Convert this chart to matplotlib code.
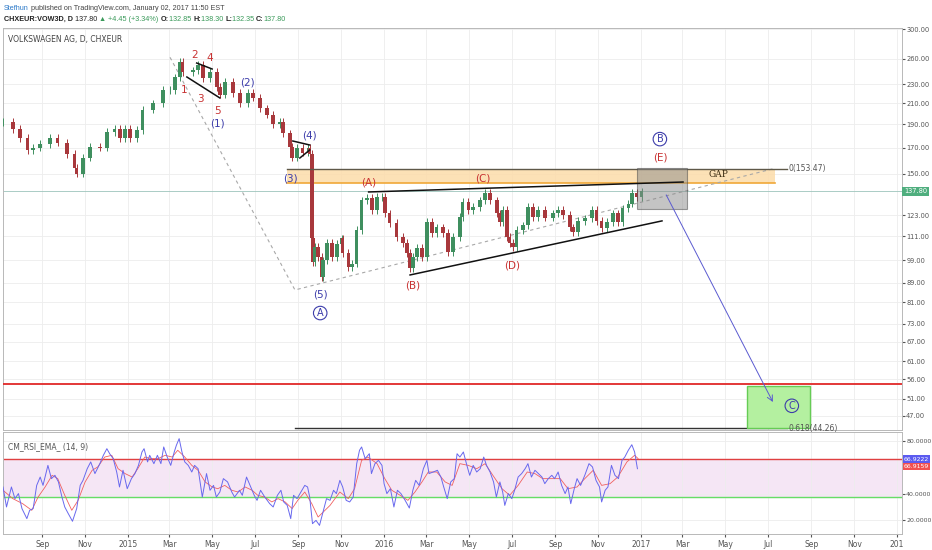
import numpy as np
import pandas as pd
import matplotlib
matplotlib.use('Agg')
import matplotlib.pyplot as plt
from matplotlib.patches import Rectangle
from matplotlib.ticker import FixedLocator, NullLocator
from matplotlib.transforms import blended_transform_factory

BASE = pd.Timestamp('2015-01-01')

# daily chart traced by eye: day offset from 2015-01-01 and close
price_days = [-178, -164, -154, -143, -135, -125, -111, -100, -87, -76,
              -73, -64, -54, -40, -30, -19, -11, -4, 3, 13,
              21, 36, 50, 60, 67, 74, 78, 93, 100, 107,
              117, 127, 131, 138, 150, 160, 171, 178, 188, 198,
              207, 217, 221, 231, 234, 241, 249, 257, 259, 262,
              264, 266, 271, 276, 278, 284, 291, 298, 305, 306,
              314, 319, 326, 333, 341, 348, 355, 362, 366, 373,
              383, 392, 398, 402, 406, 412, 419, 426, 433, 440,
              449, 456, 463, 473, 477, 485, 492, 502, 509, 516,
              526, 530, 534, 540, 544, 549, 554, 563, 570, 577,
              584, 594, 606, 613, 620, 630, 634, 641, 651, 661,
              668, 675, 683, 691, 698, 705, 713, 718, 725, 732]
price_close = [192, 186, 178, 168, 170, 173, 178, 174, 165, 154,
               150, 162, 170.5, 170, 183, 186, 178, 186, 178, 185,
               204, 210, 224, 224, 238, 256, 244, 246, 253, 237,
               244, 227, 219, 233, 221, 210, 221, 216, 205, 199,
               190, 192, 182, 170.5, 162, 170, 166, 170, 165, 110,
               98, 105.6, 100.7, 91.5, 99, 107.6, 100.7, 107, 110, 102.6,
               96, 97.5, 114.5, 132, 133.5, 126, 134, 134, 124, 118.4,
               110.7, 107.6, 102.6, 95.5, 100.7, 105, 100.7, 119, 113, 116,
               113, 103, 110.7, 122, 131, 126, 128, 132, 136.7, 132,
               124, 119, 126, 110.7, 107.6, 105.6, 114.5, 117, 128, 122,
               126, 121.5, 124, 126, 123, 116, 113.5, 119.5, 121, 126,
               119.5, 115.6, 119, 124, 119, 127, 130, 137, 134, 137.8]

rsi_days = [-178, -173, -166, -161, -156, -151, -144, -140, -135, -130,
            -125, -121, -114, -109, -104, -99, -94, -90, -85, -79,
            -73, -68, -64, -58, -53, -47, -40, -35, -30, -26,
            -21, -16, -12, -7, -1, 5, 10, 15, 20, 23,
            28, 31, 37, 42, 47, 51, 56, 61, 66, 69,
            73, 77, 81, 86, 91, 95, 100, 106, 112, 117,
            122, 126, 131, 136, 142, 148, 152, 159, 163, 169,
            175, 180, 184, 189, 195, 202, 207, 213, 218, 222,
            227, 232, 236, 241, 248, 252, 256, 259, 263, 268,
            273, 278, 283, 288, 293, 297, 302, 306, 311, 316,
            321, 326, 330, 333, 338, 344, 347, 352, 357, 362,
            365, 369, 374, 379, 384, 389, 395, 401, 406, 410,
            415, 421, 426, 429, 435, 441, 446, 450, 455, 460,
            465, 469, 473, 478, 483, 487, 492, 497, 502, 507,
            511, 516, 521, 525, 530, 534, 537, 542, 547, 551,
            556, 561, 566, 570, 575, 580, 585, 590, 594, 599,
            604, 608, 613, 618, 623, 627, 631, 636, 640, 645,
            651, 657, 662, 667, 672, 675, 680, 684, 689, 694,
            699, 704, 708, 713, 718, 722, 726]
rsi_vals = [45.3, 30.2, 45.3, 36.5, 40.3, 29, 21.4, 27.7, 29, 46.5,
            52.8, 46.5, 61.6, 51.6, 54.1, 49.1, 37.7, 30.2, 25.2, 19.4,
            29, 46.5, 50.3, 59.1, 64.2, 55.4, 62.9, 69.2, 74.2, 70.4,
            66.7, 56.6, 45.3, 57.9, 44, 51.6, 55.4, 61.6, 71.7, 74.2,
            64.2, 69.2, 62.9, 69.2, 62.9, 75.5, 67.9, 61.6, 71.7, 76.7,
            81.8, 71.7, 64.2, 61.6, 56.6, 61.6, 59.1, 37.7, 55.4, 42.8,
            46.5, 37.7, 41.5, 51.6, 49.1, 41.5, 37.7, 42.8, 39, 52.8,
            45.3, 39, 35.2, 42.8, 37.7, 32.7, 30.2, 39, 42.8, 34,
            31.4, 21.4, 39, 36.5, 42.8, 46.5, 45.3, 37.7, 17.6, 20.1,
            16.3, 26.4, 36.5, 35.2, 42.8, 40.3, 50.3, 45.3, 35.2, 34,
            37.7, 62.9, 73, 75.5, 66.7, 70.4, 55.4, 62.9, 65.4, 61.6,
            47.8, 40.3, 44, 30.2, 42.8, 40.3, 35.2, 29.4, 42.8, 50.3,
            46.5, 59.1, 65.4, 55.4, 56.6, 57.9, 52.8, 45.3, 36.5, 49.1,
            51.6, 70.4, 67.9, 71.7, 61.6, 54.1, 61.6, 56.6, 59.1, 67.9,
            61.6, 56.6, 49.1, 37.7, 49.1, 41.5, 31.4, 40.3, 36.5, 42.8,
            52.8, 55.4, 59.1, 62.9, 52.8, 57.9, 55.4, 52.8, 47.8, 51.6,
            54.1, 51.6, 56.6, 46.5, 40.3, 45.3, 32.7, 44, 51.6, 46.5,
            54.1, 62.9, 60.4, 50.3, 45.3, 34, 42.8, 45.3, 61.6, 54.1,
            51.6, 65.4, 67.9, 73, 77.2, 71.7, 59.1]

ema_days = [-178, -164, -150, -137, -128, -118, -108, -100, -90, -80,
            -71, -61, -51, -43, -33, -23, -14, -4, 6, 14,
            24, 34, 43, 53, 63, 71, 81, 91, 100, 110,
            120, 128, 138, 148, 157, 167, 177, 185, 195, 205,
            214, 224, 234, 242, 252, 262, 271, 288, 302, 314,
            323, 333, 342, 355, 366, 376, 388, 399, 409, 419,
            428, 440, 452, 462, 473, 485, 497, 509, 520, 533,
            544, 556, 569, 580, 591, 604, 616, 627, 640, 651,
            663, 675, 687, 698, 711, 722, 727]
ema_vals = [42.8, 36.5, 32.7, 27.7, 37.7, 45.3, 54.1, 51.6, 39, 27.7,
            35.2, 49.1, 57.9, 60.4, 67.9, 69.2, 59.1, 55.4, 52.8, 59.1,
            67.9, 66.7, 66.7, 69.2, 67.9, 73, 67.9, 61.6, 57.9, 49.1,
            45.3, 44, 46.5, 42.8, 41.5, 45.3, 42.8, 39, 37.7, 34,
            36.5, 34, 29, 35.2, 41.5, 32.7, 22.6, 31.4, 41.5, 36.5,
            44, 65.4, 67.9, 62.9, 51.6, 42.8, 39, 35.2, 41.5, 49.1,
            56.6, 56.6, 49.1, 46.5, 62.9, 61.6, 59.1, 62.9, 54.1, 44,
            39, 46.5, 56.6, 55.4, 51.6, 51.6, 51.6, 44, 45.3, 51.6,
            57.9, 46.5, 47.8, 52.8, 64.2, 69.2, 66.7]

price_ticks = [47, 51, 56, 61, 67, 73, 81, 89, 99, 111, 123,
               150, 170, 190, 210, 230, 260, 300]
rsi_ticks = [20, 40, 80]
month_ticks = ['2014-09-01', '2014-11-01', '2015-01-01', '2015-03-01',
               '2015-05-01', '2015-07-01', '2015-09-01', '2015-11-01',
               '2016-01-01', '2016-03-01', '2016-05-01', '2016-07-01',
               '2016-09-01', '2016-11-01', '2017-01-01', '2017-03-01',
               '2017-05-01', '2017-07-01', '2017-09-01', '2017-11-01',
               '2018-01-01']
month_labels = ['Sep', 'Nov', '2015', 'Mar', 'May', 'Jul', 'Sep', 'Nov',
                '2016', 'Mar', 'May', 'Jul', 'Sep', 'Nov', '2017', 'Mar',
                'May', 'Jul', 'Sep', 'Nov', '201']

# drawings on the chart (day offset, price)
wave_red = [('2', 95, 265), ('4', 117, 261), ('1', 80, 224), ('3', 104, 214.6),
            ('5', 127, 202.5), ('(A)', 343, 143.5), ('(C)', 506, 146.9),
            ('(B)', 406, 87.6), ('(D)', 547, 96.8), ('(E)', 758, 161.7)]
wave_blue = [('(1)', 127, 191), ('(2)', 170, 232.7), ('(4)', 258, 180.5),
             ('(3)', 231, 146.9), ('(5)', 275, 83.9)]
wave_circled = [('A', 274, 76.9), ('B', 758, 177), ('C', 946, 49.3)]
black_lines = [((84, 238.4), (131, 215.6)), ((98, 254.9), (120, 247.7)),
               ((235, 175.4), (259, 172.1)), ((245, 161.7), (259, 168)),
               ((343, 137.4), (791, 144.1)), ((402, 92.3), (761, 119.6))]
dashed_path_days = [60, 238, 922]
dashed_path_price = [262, 85.9, 153.9]
fib_top, fib_low = 153.47, 44.26
gap_low = 143.5
grey_box = (726, 796, 126.7, 154.2)
green_box = (882, 972, 44.26, 54.2)
arrow_from, arrow_to = (767, 135.5), (919, 50.2)
support_level = 54.7
last_close = 137.8

W, H = 932, 550
RED_T = '#c83232'
BLUE_T = '#3c3caa'
TXT = '#555555'
GRID = '#ededed'


def frame(x0, y0, x1, y1):
    return [x0 / W, 1 - y1 / H, (x1 - x0) / W, (y1 - y0) / H]


fig = plt.figure(figsize=(W / 100, H / 100), dpi=100)
fig.patch.set_facecolor('white')
ax = fig.add_axes(frame(3, 28, 902, 430))
rsi_ax = fig.add_axes(frame(3, 432, 902, 534), sharex=ax)

tick_days = [(pd.Timestamp(d) - BASE).days for d in month_ticks]

# candles
close = np.array(price_close, dtype=float)
opens = np.r_[close[0], close[:-1]]
days = np.array(price_days)
up = close >= opens
cols = np.where(up, '#3f8f5f', '#a8383c')
hi = np.maximum(opens, close) * 1.018
lo = np.minimum(opens, close) * 0.982
ax.vlines(days, lo, hi, colors=cols, lw=0.7, zorder=3)
ax.bar(days, np.abs(close - opens), bottom=np.minimum(opens, close),
       width=5, color=cols, linewidth=0, zorder=3)

ax.set_yscale('log')
ax.set_ylim(43.9, 301.5)
ax.set_xlim(-178, 1103)
ax.yaxis.set_major_locator(FixedLocator(price_ticks))
ax.yaxis.set_minor_locator(NullLocator())
ax.yaxis.set_major_formatter(plt.FuncFormatter(lambda v, p: '%.2f' % v))
ax.set_xticks(tick_days)
ax.tick_params(axis='y', left=False, right=True, labelleft=False,
               labelright=True, labelsize=4.8, colors=TXT, length=2, pad=1)
ax.tick_params(axis='x', bottom=False, labelbottom=False)
ax.grid(True, color=GRID, lw=0.6, zorder=0)
for sp in ax.spines.values():
    sp.set_color('#b8b8b8')
    sp.set_linewidth(0.7)

# gap zone and fib levels
ax.add_patch(Rectangle((227, gap_low), 922 - 227, fib_top - gap_low,
                       fc='#fcdcaa', ec='none', alpha=0.85, zorder=2))
ax.plot([227, 922], [gap_low, gap_low], color='#f0a838', lw=1.2, zorder=2)
ax.plot([227, 939], [fib_top, fib_top], color='#5e5848', lw=1.0, zorder=4)
ax.plot([238, 939], [fib_low, fib_low], color='#333333', lw=1.0, zorder=4)
ax.text(941, fib_top, '0(153.47)', fontsize=5.5, color=TXT, va='center',
        zorder=7)
ax.text(941, fib_low, '0.618(44.26)', fontsize=5.5, color=TXT, va='center',
        zorder=7)
ax.text(841, 149.5, 'GAP', fontsize=6.5, color='#3a2a10', family='serif',
        ha='center', va='center', zorder=5)

ax.add_patch(Rectangle((grey_box[0], grey_box[2]), grey_box[1] - grey_box[0],
                       grey_box[3] - grey_box[2], fc='#8a8a8a', alpha=0.5,
                       ec='#444444', lw=0.8, zorder=5))
ax.add_patch(Rectangle((green_box[0], green_box[2]), green_box[1] - green_box[0],
                       green_box[3] - green_box[2], fc='#b4f0a0',
                       ec='#66cc55', lw=1.0, zorder=4))

ax.axhline(support_level, color='#e02828', lw=1.3, zorder=4)
ax.axhline(last_close, color='#9cc4bc', lw=0.6, zorder=2)

ax.plot(dashed_path_days, dashed_path_price, color='#a8a8a8', lw=0.8,
        ls=(0, (3, 3)), zorder=2)
for (x0, y0), (x1, y1) in black_lines:
    ax.plot([x0, x1], [y0, y1], color='#111111', lw=1.1, zorder=5)

ax.annotate('', xy=arrow_to, xytext=arrow_from,
            arrowprops=dict(arrowstyle='->', color='#5a5ad0', lw=0.7,
                            shrinkA=0, shrinkB=0), zorder=6)

for s, d, p in wave_red:
    ax.text(d, p, s, color=RED_T, fontsize=7.5, ha='center', va='center',
            zorder=6)
for s, d, p in wave_blue:
    ax.text(d, p, s, color=BLUE_T, fontsize=7.5, ha='center', va='center',
            zorder=6)
for s, d, p in wave_circled:
    ax.text(d, p, s, color=BLUE_T, fontsize=7, ha='center', va='center',
            zorder=6, bbox=dict(boxstyle='circle,pad=0.18', fc='none',
                                ec=BLUE_T, lw=0.8))

ax.text(0.006, 0.982, 'VOLKSWAGEN AG, D, CHXEUR', transform=ax.transAxes,
        fontsize=5.5, color='#444444', va='top')

tr = blended_transform_factory(ax.transAxes, ax.transData)
ax.text(1.002, last_close, '137.80', transform=tr, fontsize=4.8, color='white',
        va='center', ha='left',
        bbox=dict(boxstyle='square,pad=0.25', fc='#4fae7e', ec='none'))

# RSI panel
rsi_ax.axhspan(37.5, 66.2, color='#f5e6f5', zorder=1)
rsi_ax.axhline(66.2, color='#e04040', lw=1.0, zorder=2)
rsi_ax.axhline(37.5, color='#66dd66', lw=1.0, zorder=2)
rsi_ax.plot(rsi_days, rsi_vals, color='#6868ee', lw=0.7, zorder=4)
rsi_ax.plot(ema_days, ema_vals, color='#f06060', lw=0.6, zorder=3)
rsi_ax.set_ylim(9.8, 86.8)
rsi_ax.set_yticks(rsi_ticks)
rsi_ax.set_yticklabels(['%.4f' % v for v in rsi_ticks])
rsi_ax.set_xticks(tick_days)
rsi_ax.set_xticklabels(month_labels)
rsi_ax.tick_params(axis='y', left=False, right=True, labelleft=False,
                   labelright=True, labelsize=4.5, colors=TXT, length=2,
                   pad=1)
rsi_ax.tick_params(axis='x', labelsize=5.5, colors=TXT, length=2.5, pad=2)
rsi_ax.grid(True, color=GRID, lw=0.6, zorder=0)
for sp in rsi_ax.spines.values():
    sp.set_color('#b8b8b8')
    sp.set_linewidth(0.7)
rsi_ax.text(0.006, 0.9, 'CM_RSI_EMA_ (14, 9)', transform=rsi_ax.transAxes,
            fontsize=5.5, color=TXT, va='top')
tr2 = blended_transform_factory(rsi_ax.transAxes, rsi_ax.transData)
rsi_ax.text(1.002, 66.4, '66.9222', transform=tr2, fontsize=4.4, color='white',
            va='center', bbox=dict(boxstyle='square,pad=0.2', fc='#5b5bf0',
                                   ec='none'))
rsi_ax.text(1.002, 60.8, '66.9159', transform=tr2, fontsize=4.4, color='white',
            va='center', bbox=dict(boxstyle='square,pad=0.2', fc='#f05050',
                                   ec='none'))

# header lines
hdr = ['Liberation Sans Narrow', 'Liberation Sans', 'DejaVu Sans']
hsize = 5.2
t = fig.text(4 / W, 1 - 10 / H, 'Stefhun', color='#2a78c8', fontsize=hsize,
             family=hdr)
ax.annotate(' published on TradingView.com, January 02, 2017 11:50 EST',
            xy=(1, 0), xycoords=t, va='bottom', fontsize=hsize,
            color='#444444', family=hdr, annotation_clip=False)
parts = [('CHXEUR:VOW3D, D ', '#222222', 'bold'), ('137.80 ', '#222222', 'normal'),
         ('\u25b2 ', '#3a9a5a', 'normal'), ('+4.45 (+3.34%) ', '#3a9a5a', 'normal'),
         ('O:', '#222222', 'bold'), ('132.85 ', '#3a9a5a', 'normal'),
         ('H:', '#222222', 'bold'), ('138.30 ', '#3a9a5a', 'normal'),
         ('L:', '#222222', 'bold'), ('132.35 ', '#3a9a5a', 'normal'),
         ('C:', '#222222', 'bold'), ('137.80', '#3a9a5a', 'normal')]
prev = fig.text(4 / W, 1 - 21 / H, parts[0][0], color=parts[0][1],
                fontsize=hsize, weight=parts[0][2], family=hdr)
for s, c, w in parts[1:]:
    prev = ax.annotate(s, xy=(1, 0), xycoords=prev, va='bottom',
                       fontsize=hsize, color=c, weight=w, family=hdr,
                       annotation_clip=False)

fig.savefig('out.png', dpi=100)
